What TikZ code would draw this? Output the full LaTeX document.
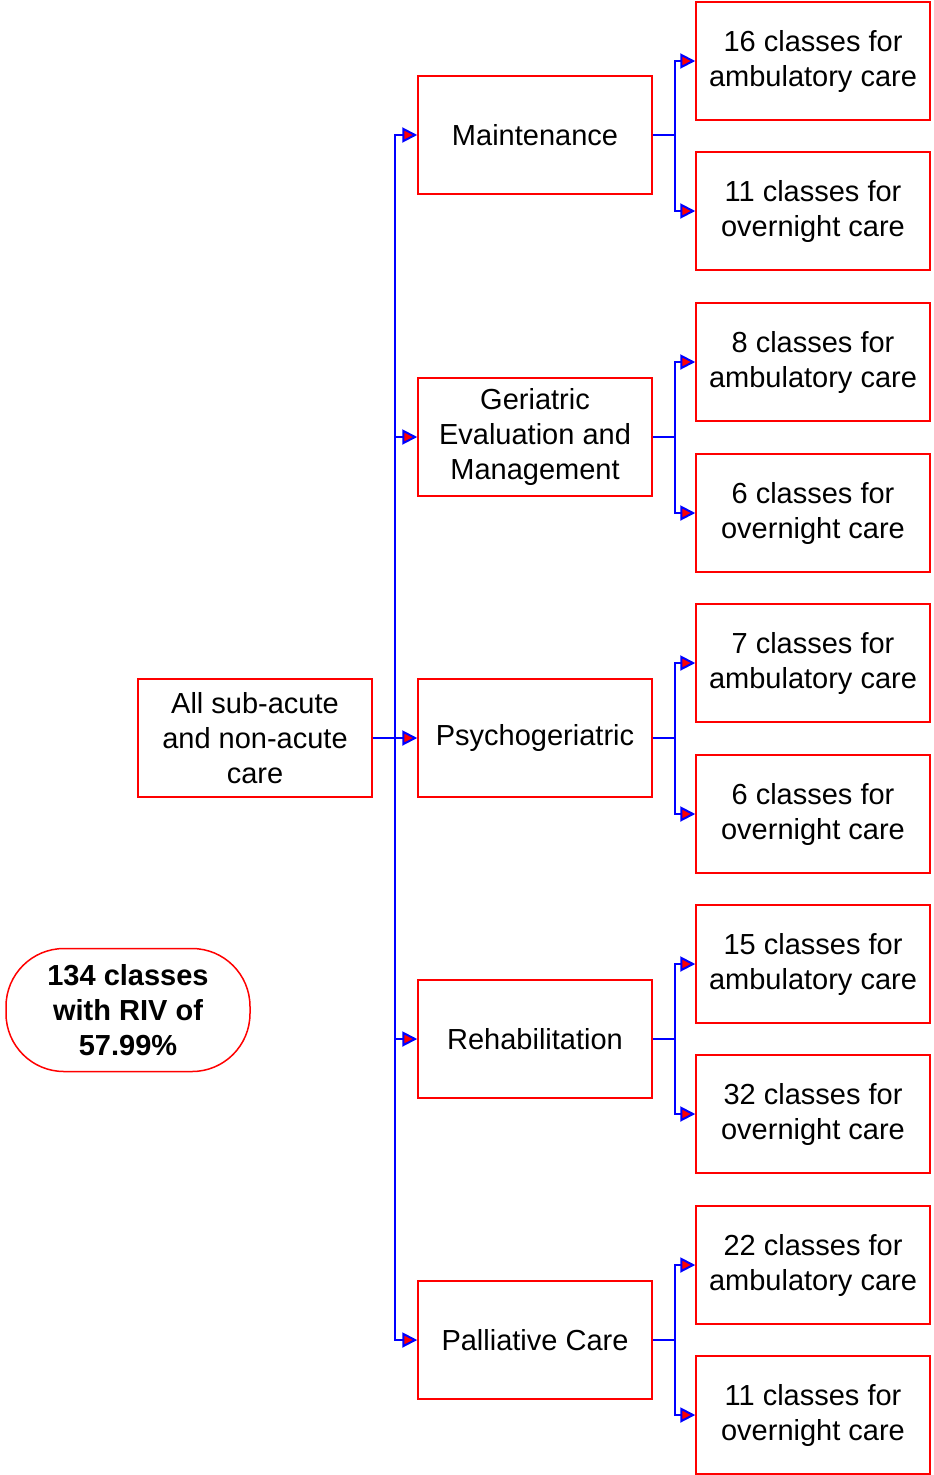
\documentclass[tikz,border=0pt]{standalone}
\usepackage{fontspec}
\setmainfont{Liberation Sans}
\usetikzlibrary{arrows.meta}
\begin{document}
\begin{tikzpicture}[x=1pt,y=-1pt,
  box/.style={draw=red,line width=1.5pt,minimum width=234pt,minimum height=118pt,
    inner sep=0pt,align=center,font=\fontsize{29}{35}\selectfont},
  oval/.style={draw=red,line width=1.5pt,minimum width=244pt,minimum height=123pt,
    rounded corners=58pt,inner sep=0pt,align=center,font=\fontsize{29}{35}\selectfont\bfseries},
  link/.style={draw=blue,line width=1.5pt},
  arr/.style={link,-{Triangle[length=15pt,width=15pt,fill=red,line width=2pt]}}]
\useasboundingbox (0,0) rectangle (934,1475);

% root and summary
\node[box] (root) at (255,738) {All sub-acute\\and non-acute\\care};
\node[oval] (sum) at (128,1010) {134 classes\\with RIV of\\57.99\%};

% care types
\node[box] (m1) at (535,135) {Maintenance};
\node[box] (m2) at (535,437) {Geriatric\\Evaluation and\\Management};
\node[box] (m3) at (535,738) {Psychogeriatric};
\node[box] (m4) at (535,1039) {Rehabilitation};
\node[box] (m5) at (535,1340) {Palliative Care};

% class counts
\node[box] (a1) at (813,61)   {16 classes for\\ambulatory care};
\node[box] (o1) at (813,211)  {11 classes for\\overnight care};
\node[box] (a2) at (813,362)  {8 classes for\\ambulatory care};
\node[box] (o2) at (813,513)  {6 classes for\\overnight care};
\node[box] (a3) at (813,663)  {7 classes for\\ambulatory care};
\node[box] (o3) at (813,814)  {6 classes for\\overnight care};
\node[box] (a4) at (813,964)  {15 classes for\\ambulatory care};
\node[box] (o4) at (813,1114) {32 classes for\\overnight care};
\node[box] (a5) at (813,1265) {22 classes for\\ambulatory care};
\node[box] (o5) at (813,1415) {11 classes for\\overnight care};

% root bus
\coordinate (rb) at (395,738);
\draw[link] (root.east) -- (rb);
\foreach \m in {m1,m2,m3,m4,m5}
  \draw[arr] (rb) |- (\m.west);

% care-type buses
\foreach \m/\a/\o in {m1/a1/o1,m2/a2/o2,m3/a3/o3,m4/a4/o4,m5/a5/o5}{
  \draw[link] (\m.east) -- ++(22,0) coordinate (\m b);
  \draw[arr] (\m b) |- (\a.west);
  \draw[arr] (\m b) |- (\o.west);
}
\end{tikzpicture}
\end{document}
